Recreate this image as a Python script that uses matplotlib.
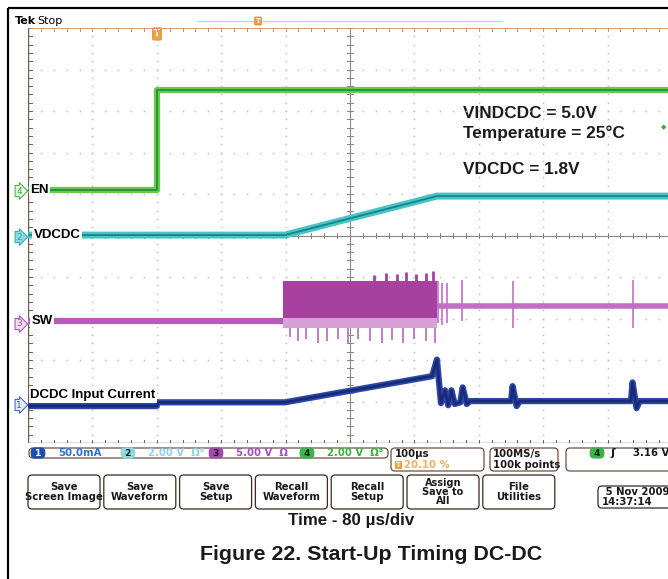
import matplotlib
matplotlib.use("Agg")
import matplotlib.pyplot as plt
import numpy as np
from matplotlib.patches import FancyBboxPatch, Rectangle

# scope screen: 10 divisions each way, 80 us/div
t_div = 80.0
n_div = 10

# EN (ch4)
en_t = [0, 160, 160, 800]
en_v = [6.09, 6.09, 8.51, 8.51]

# VDCDC (ch2)
vd_t = [0, 319, 508, 800]
vd_v = [5.01, 5.01, 5.95, 5.95]

# SW (ch3) baseline before / after burst, burst window and spikes
sw_before = 2.93
sw_after = 3.31
burst_t = [317, 508]
burst_top = 3.91
burst_bot = 2.76
burst_spk_t = [325, 335, 345, 360, 372, 385, 398, 410, 425, 440, 452, 466, 480, 494, 505]
burst_spk_lo = [2.55, 2.45, 2.5, 2.4, 2.45, 2.5, 2.42, 2.5, 2.45, 2.4, 2.48, 2.42, 2.5, 2.45, 2.4]
burst_top_t = [430, 445, 458, 470, 482, 495, 503]
burst_top_hi = [4.05, 4.1, 4.08, 4.12, 4.07, 4.1, 4.15]
tail_spk_t = [509, 514, 521, 539, 602, 751]
tail_spk_hi = [3.9, 3.85, 3.85, 3.93, 3.9, 3.92]
tail_spk_lo = [2.9, 2.85, 2.9, 2.95, 2.76, 2.78]

# DCDC input current (ch1)
cur_t = [0, 160, 160, 319, 502, 508, 513, 518, 522, 526, 530, 537, 540, 545, 549,
         600, 602, 607, 611, 749, 751, 756, 760, 800]
cur_v = [0.89, 0.89, 0.98, 0.98, 1.61, 2.01, 0.96, 1.27, 0.91, 1.27, 0.94, 0.98,
         1.34, 0.94, 1.01, 1.01, 1.37, 0.89, 1.01, 1.01, 1.46, 0.84, 1.01, 1.01]

W, H = 668, 579
fig = plt.figure(figsize=(W / 100, H / 100), dpi=100)
fig.patch.set_facecolor("white")

# pixel axes for the frame and scope UI
ui = fig.add_axes([0, 0, 1, 1])
ui.set_xlim(0, W)
ui.set_ylim(H, 0)
ui.axis("off")

ui.add_patch(Rectangle((8, 8), 720, 620, fill=False, ec="black", lw=1.6))

# scope graticule axes
L, R, T, B = 28, 672, 28, 443
sc = fig.add_axes([L / W, (H - B) / H, (R - L) / W, (B - T) / H])
sc.set_xlim(0, n_div * t_div)
sc.set_ylim(0, n_div)
sc.axis("off")
sc.patch.set_alpha(0)

gcol = "#b9c3cc"
sub = np.arange(0, n_div + 0.01, 0.2)
for k in range(1, n_div):
    if k == 5:
        continue
    sc.plot(np.full(sub.size, k * t_div), sub, ls="none", marker="s", ms=1.1, color=gcol, mew=0)
    sc.plot(sub * t_div, np.full(sub.size, k), ls="none", marker="s", ms=1.1, color=gcol, mew=0)

# centre cross with ticks
cc = "#8a8580"
sc.plot([0, 800], [5, 5], color=cc, lw=0.8)
sc.plot([400, 400], [0, 10], color=cc, lw=0.8)
for s in sub:
    sc.plot([s * t_div, s * t_div], [4.93, 5.07], color=cc, lw=0.7)
    sc.plot([396, 404], [s, s], color=cc, lw=0.7)
    sc.plot([0, 5], [s, s], color="#6b5a4a", lw=0.7)
    sc.plot([s * t_div, s * t_div], [10, 9.93], color="#d88a5a", lw=0.7)
    sc.plot([s * t_div, s * t_div], [0, 0.07], color="#6b5a4a", lw=0.7)
sc.plot([0, 0], [0, 10], color="#6b5a4a", lw=1.0)
sc.plot([0, 800], [10, 10], color="#d88a5a", lw=1.2)
sc.plot([0, 800], [0, 0], color="#6b5a4a", lw=1.0)

# traces
sc.plot(en_t, en_v, color="#6cc84a", lw=4.5, solid_capstyle="butt", zorder=5)
sc.plot(en_t, en_v, color="#24963a", lw=1.4, zorder=6)

sc.plot(vd_t, vd_v, color="#45c4c4", lw=5, zorder=5)
sc.plot(vd_t, vd_v, color="#167f86", lw=1.2, zorder=6)

sc.plot([0, burst_t[0]], [sw_before, sw_before], color="#b45cb8", lw=4.5, zorder=5)
sc.plot([burst_t[1], 800], [sw_after, sw_after], color="#c06fc4", lw=4, zorder=5)
sc.fill_between(burst_t, [burst_bot] * 2, [burst_top] * 2, color="#a8409f", lw=0, zorder=5)
sc.fill_between(burst_t, [burst_bot] * 2, [burst_bot + 0.25] * 2, color="#d7a0d6", lw=0, zorder=5)
sc.vlines(burst_spk_t, burst_spk_lo, burst_bot, color="#b865bd", lw=1.2, zorder=5)
sc.vlines(burst_top_t, burst_top, burst_top_hi, color="#a8409f", lw=2, zorder=5)
sc.vlines(tail_spk_t, tail_spk_lo, tail_spk_hi, color="#c06fc4", lw=1.2, zorder=5)

sc.plot(cur_t, cur_v, color="#2a48a8", lw=4.5, zorder=5)
sc.plot(cur_t, cur_v, color="#1a2a78", lw=2, zorder=6)

# trace labels (white boxes over the traces)
lab = dict(family="Liberation Sans", weight="bold", fontsize=9.5, va="center", ha="left", zorder=10,
           bbox=dict(fc="white", ec="none", pad=1))
sc.text(3, en_v[0], "EN", **lab)
sc.text(7, vd_v[0], "VDCDC", **lab)
sc.text(4, sw_before, "SW", **lab)
sc.text(3, 1.15, "DCDC Input Current", **lab)

# channel markers on the left
for y, num, fc, ec in [(191, "4", "#e9f7e4", "#3caa3a"), (237, "2", "#8fd8dc", "#2aa6b0"),
                       (324, "3", "#f0dcf0", "#a04ab0"), (405, "1", "#e4ecfa", "#3a5cc0")]:
    ui.text(19, y, num, fontsize=6.5, color=ec, ha="center", va="center",
            bbox=dict(boxstyle="rarrow,pad=0.12", fc=fc, ec=ec, lw=0.7))

# annotations
ann = dict(family="Liberation Sans", weight="bold", fontsize=12.4, ha="left", va="center", color="#1a1a1a")
ui.text(463, 114, "VINDCDC = 5.0V", **ann)
ui.text(463, 133, "Temperature = 25°C", **ann)
ui.text(463, 170, "VDCDC = 1.8V", **ann)
ui.text(664, 127, "◆", fontsize=5, color="#3caa3a", ha="center", va="center")

# header
ui.text(15, 21, "Tek", fontsize=8, weight="bold", va="center", ha="left")
ui.text(37, 21, "Stop", fontsize=8, va="center", ha="left")
ui.plot([197, 502], [21, 21], color="#a9dbe6", lw=0.9)
ui.text(258, 21, "T", fontsize=5, color="white", weight="bold", ha="center", va="center",
        bbox=dict(boxstyle="round,pad=0.15", fc="#f0a040", ec="#e08a30", lw=0.5))
ui.text(157, 34, "T", fontsize=6, color="white", weight="bold", ha="center", va="center",
        bbox=dict(boxstyle="round,pad=0.2", fc="#f0a040", ec="#e08a30", lw=0.5))

# status bar
def rbox(x0, y0, x1, y1, ec="#6b5040"):
    ui.add_patch(FancyBboxPatch((x0, y0), x1 - x0, y1 - y0, boxstyle="round,pad=0,rounding_size=4",
                                fc="white", ec=ec, lw=0.9))

ui_font = dict(family="DejaVu Sans", fontsize=7.3, va="center")
rbox(29, 448, 388, 458)
for x, num, fc, tc, txt, tcol in [(38, "1", "#1f4fa8", "white", "50.0mA", "#2f6fd0"),
                                  (128, "2", "#8fd8dc", "#1a1a1a", "2.00 V  Ω\u2078", "#8fd3e4"),
                                  (216, "3", "#a04ab0", "#1a1a1a", "5.00 V  Ω", "#a050c0"),
                                  (307, "4", "#3cb44a", "#1a1a1a", "2.00 V  Ω\u2078", "#3cb040")]:
    ui.text(x, 453, f" {num} ", ha="center", color=tc, fontsize=6.5, weight="bold", va="center",
            bbox=dict(boxstyle="round,pad=0.12,rounding_size=0.5", fc=fc, ec="none"))
    ui.text(x + 20, 453, txt, ha="left", color=tcol, weight="bold", **ui_font)

rbox(391, 448, 484, 471)
ui.text(395, 454, "100µs", ha="left", color="#1a1a1a", weight="bold", **ui_font)
ui.text(396, 465, "T", ha="left", color="white", fontsize=5, weight="bold", va="center",
        bbox=dict(boxstyle="square,pad=0.1", fc="#f0a040", ec="none"))
ui.text(404, 465, "20.10 %", ha="left", color="#f2b060", weight="bold", **ui_font)

rbox(490, 448, 558, 471)
ui.text(493, 454, "100MS/s", ha="left", color="#1a1a1a", weight="bold", **ui_font)
ui.text(493, 465, "100k points", ha="left", color="#1a1a1a", weight="bold", **ui_font)

rbox(566, 448, 700, 471)
ui.text(597, 453, " 4 ", ha="center", color="#1a1a1a", fontsize=6.5, weight="bold", va="center",
        bbox=dict(boxstyle="round,pad=0.12,rounding_size=0.5", fc="#3cb44a", ec="none"))
ui.text(613, 453, "ʃ", ha="center", color="#1a1a1a", fontsize=8, weight="bold", va="center")
ui.text(633, 453, "3.16 V", ha="left", color="#1a1a1a", weight="bold", **ui_font)

# soft buttons
buttons = ["Save\nScreen Image", "Save\nWaveform", "Save\nSetup", "Recall\nWaveform",
           "Recall\nSetup", "Assign\nSave to\nAll", "File\nUtilities"]
for i, b in enumerate(buttons):
    x0 = 28 + i * 75.8
    rbox(x0, 475, x0 + 72, 509, ec="#3a2a20")
    ui.text(x0 + 36, 492, b, ha="center", color="#1a1a1a", weight="bold",
            linespacing=1.05 if "Assign" not in b else 0.9,
            family="DejaVu Sans", fontsize=7.3 if "Assign" not in b else 7, va="center")

rbox(598, 486, 700, 508, ec="#3a2a20")
ui.text(602, 497, " 5 Nov 2009\n14:37:14", ha="left", color="#1a1a1a", weight="bold",
        linespacing=0.95, **ui_font)

# captions
ui.text(351, 521, "Time - 80 µs/div", family="Liberation Sans", weight="bold", fontsize=12.2,
        ha="center", va="center", color="#1a1a1a")
ui.text(371, 554, "Figure 22. Start-Up Timing DC-DC", family="Liberation Sans", weight="bold",
        fontsize=15.4, ha="center", va="center", color="#1a1a1a")

fig.savefig("out.png", dpi=100)
